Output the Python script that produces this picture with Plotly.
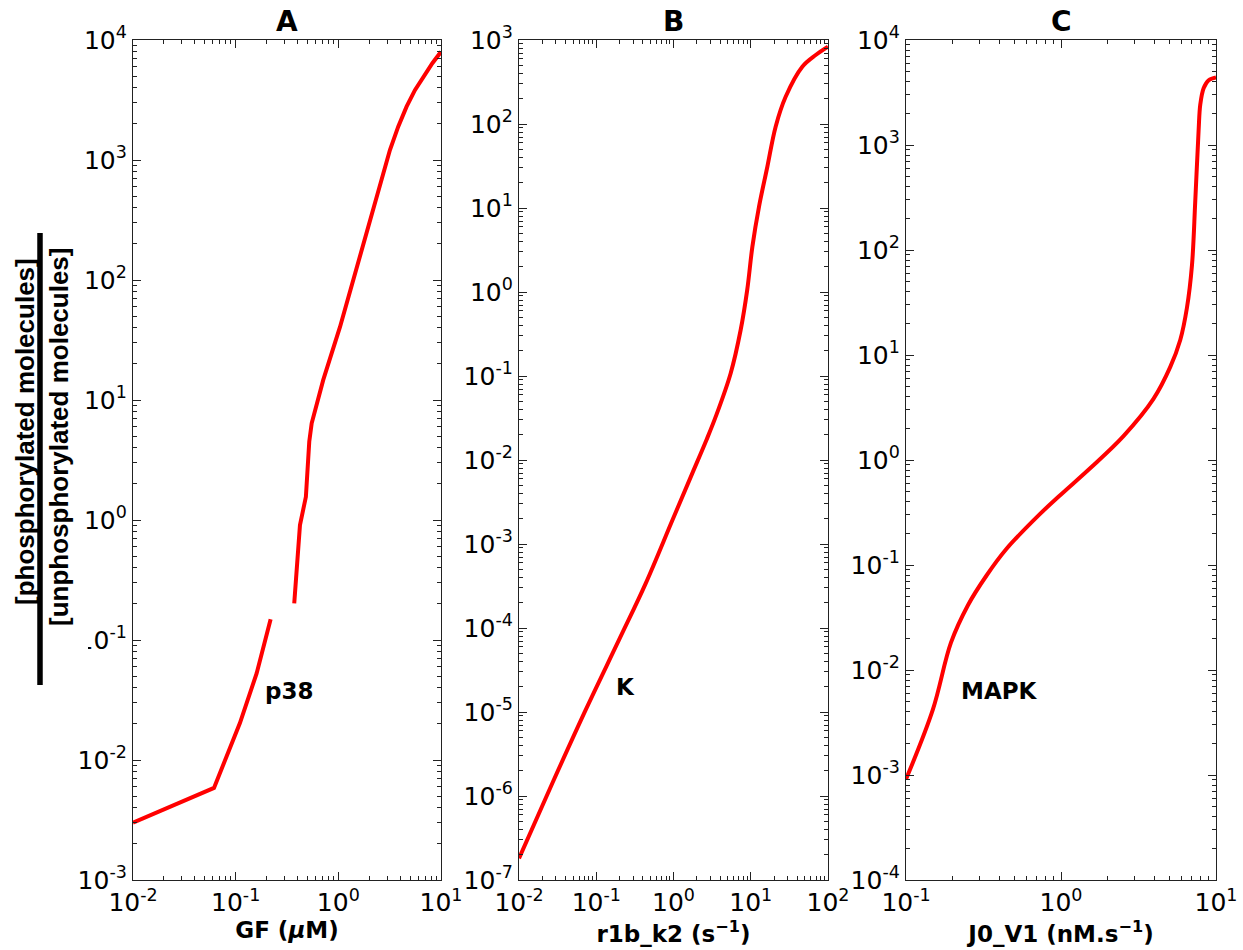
import plotly.graph_objects as go

# ---- data: phosphorylation ratio versus stimulus, three modules ----
gf_uM = [0.01, 0.0615, 0.110, 0.160, 0.219, None, 0.372, 0.423, 0.483, 0.521,
         0.55, 0.713, 1.04, 1.51, 2.19, 2.64, 3.18, 3.83, 4.62, 5.57, 6.71, 8.24, 10.0]
p38_ratio = [0.003, 0.00585, 0.0203, 0.0527, 0.149, None, 0.202, 0.908, 1.56, 4.5,
             6.39, 14.7, 40.8, 129, 408, 726, 1210, 1897, 2780, 3815, 4950, 6410, 7970]

r1b_k2 = [0.01, 0.027, 0.073, 0.197, 0.437, 0.97, 1.75, 2.67, 3.52, 5.5,
          7.4, 9.0, 10.5, 12.8, 16.4, 21.0, 28.3, 46.5, 69.3, 100.0]
k_ratio = [1.81e-7, 1.42e-6, 1.06e-5, 7.2e-5, 3.4e-4, 1.93e-3, 6.93e-3, 0.0173,
           0.0328, 0.108, 0.353, 1.06, 3.47, 10.4, 31, 93, 211, 481, 663, 832]

j0_v1 = [0.1, 0.149, 0.195, 0.251, 0.330, 0.444, 0.73, 1.0, 1.535, 2.52, 3.95,
         5.07, 5.88, 6.49, 7.0, 7.35, 7.72, 7.92, 8.32, 8.97, 10.0]
mapk_ratio = [0.00091, 0.00419, 0.0182, 0.0414, 0.079, 0.142, 0.305, 0.47, 0.83,
              1.68, 3.82, 7.7, 13.9, 28, 72, 294, 1360, 2440, 3475, 4140, 4400]

# decade exponents spanned by each axis
a_x_exp = (-2, 1)
a_y_exp = (-3, 4)
b_x_exp = (-2, 2)
b_y_exp = (-7, 3)
c_x_exp = (-1, 1)
c_y_exp = (-4, 4)

panel_titles = ["A", "B", "C"]
x_titles = ["GF (<i>μ</i>M)", "r1b_k2 (s<sup>−1</sup>)", "J0_V1 (nM.s<sup>−1</sup>)"]
species = ["p38", "K", "MAPK"]


def decade_axis(lo, hi):
    vals = [10.0 ** e for e in range(lo, hi + 1)]
    text = [f"10<sup>{e}</sup>" for e in range(lo, hi + 1)]
    minor = [m * 10.0 ** e for e in range(lo, hi) for m in range(2, 10)]
    return dict(
        type="log", range=[lo, hi], tickmode="array", tickvals=vals, ticktext=text,
        minor=dict(tickmode="array", tickvals=minor, ticks="inside", ticklen=4,
                   tickwidth=1, tickcolor="#222", showgrid=False),
        showline=True, linecolor="#222", linewidth=1.3, mirror="allticks",
        ticks="inside", ticklen=8, tickwidth=1, tickcolor="#222",
        showgrid=False, zeroline=False, automargin=False,
        tickfont=dict(family="DejaVu Sans", size=25, color="black"),
    )


W, H = 1243, 950
x_domains = [[133 / W, 441 / W], [519 / W, 828 / W], [906 / W, 1216 / W]]
y_domain = [1 - 880 / H, 1 - 40 / H]

fig = go.Figure()
series = [(gf_uM, p38_ratio, "linear"), (r1b_k2, k_ratio, "spline"), (j0_v1, mapk_ratio, "spline")]
for i, (xs, ys, shape) in enumerate(series):
    suffix = "" if i == 0 else str(i + 1)
    line = dict(color="#ff0000", width=4, shape=shape)
    if shape == "spline":
        line["smoothing"] = 1.0
    fig.add_trace(go.Scatter(x=xs, y=ys, mode="lines", line=line, showlegend=False,
                             xaxis="x" + suffix, yaxis="y" + suffix, connectgaps=False))

axes_exp = [(a_x_exp, a_y_exp), (b_x_exp, b_y_exp), (c_x_exp, c_y_exp)]
layout = {}
for i, ((xl, xh), (yl, yh)) in enumerate(axes_exp):
    suffix = "" if i == 0 else str(i + 1)
    xa = decade_axis(xl, xh)
    xa.update(domain=x_domains[i], anchor="y" + suffix,
              title=dict(text=f"<b>{x_titles[i]}</b>", standoff=2,
                         font=dict(family="DejaVu Sans", size=23, color="black")))
    ya = decade_axis(yl, yh)
    ya.update(domain=y_domain, anchor="x" + suffix)
    layout["xaxis" + suffix] = xa
    layout["yaxis" + suffix] = ya

fig.update_layout(**layout)

annotations = []
for i, t in enumerate(panel_titles):
    annotations.append(dict(
        text=f"<b>{t}</b>", xref="paper", yref="paper",
        x=sum(x_domains[i]) / 2, y=1 - 21 / H, xanchor="center", yanchor="middle",
        showarrow=False, font=dict(family="DejaVu Sans", size=28, color="black")))

# species labels inside each panel
label_pos = [(289, 691), (625, 687), (999, 691)]
for (px, py), name in zip(label_pos, species):
    annotations.append(dict(
        text=f"<b>{name}</b>", xref="paper", yref="paper",
        x=px / W, y=1 - py / H, xanchor="center", yanchor="middle",
        showarrow=False, font=dict(family="DejaVu Sans", size=23, color="black")))

# shared y label written as a ratio
annotations.append(dict(
    text="<b>[phosphorylated molecules]</b>", xref="paper", yref="paper",
    x=25 / W, y=1 - 432 / H, textangle=-90, xanchor="center", yanchor="middle",
    showarrow=False, font=dict(family="Liberation Sans", size=26, color="black")))
annotations.append(dict(
    text="<b>[unphosphorylated molecules]</b>", xref="paper", yref="paper",
    x=59 / W, y=1 - 437 / H, textangle=-90, xanchor="center", yanchor="middle",
    showarrow=False, font=dict(family="Liberation Sans", size=26, color="black")))

fig.update_layout(
    width=W, height=H, margin=dict(l=0, r=0, t=0, b=0),
    paper_bgcolor="white", plot_bgcolor="white",
    annotations=annotations,
    shapes=[
        # fraction bar of the y label
        dict(type="line", xref="paper", yref="paper",
             x0=40 / W, x1=40 / W, y0=1 - 233 / H, y1=1 - 685 / H,
             line=dict(color="black", width=5.5)),
        # white backing of the y label block, clipping the tick label beside it
        dict(type="rect", xref="paper", yref="paper", layer="above",
             x0=72 / W, x1=88 / W, y0=1 - 660 / H, y1=1 - 624 / H,
             fillcolor="white", line=dict(width=0)),
    ],
)

fig.write_html("out.html")
